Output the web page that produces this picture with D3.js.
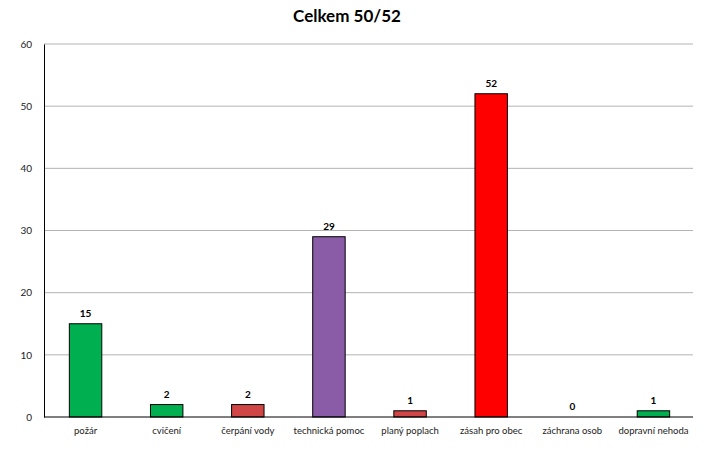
<!DOCTYPE html>
<html><head><meta charset="utf-8">
<script src="https://cdn.jsdelivr.net/npm/d3@7"></script>
<style>body{margin:0;background:#fff}svg{display:block}</style>
</head><body>
<script>
const categories = ["požár","cvičení","čerpání vody","technická pomoc","planý poplach","zásah pro obec","záchrana osob","dopravní nehoda"];
const values = [15,2,2,29,1,52,0,1];
const colors = ["#00b050","#00b050","#d04646","#8a5ca8","#d04646","#ff0000","#d04646","#00b050"];
const yTicks = [0,10,20,30,40,50,60];
const title = "Celkem 50/52";

const W = 703, H = 458;
const m = {left:44, right:10, top:44, bottom:41};
const svg = d3.select("body").append("svg").attr("width",W).attr("height",H);
const font = "Lato, 'Open Sans', sans-serif";

const x = d3.scaleBand().domain(categories).range([m.left+1, W-m.right+1]).paddingInner(0.6).paddingOuter(0.3);
const y = d3.scaleLinear().domain([0,60]).range([H-m.bottom, m.top]);

svg.append("text").attr("x", 347).attr("y", 22).attr("text-anchor","middle")
  .attr("font-family", font).attr("font-weight","bold").attr("font-size",17).attr("fill","#000").text(title);

// gridlines
svg.append("g").selectAll("line").data(yTicks.filter(d=>d>0)).join("line")
  .attr("x1", m.left).attr("x2", W-m.right).attr("y1", d=>y(d)).attr("y2", d=>y(d))
  .attr("stroke","#b3b3b3").attr("stroke-width",1);

// y axis
const yAxis = svg.append("g").attr("transform",`translate(${m.left},0)`)
  .call(d3.axisLeft(y).tickValues(yTicks).tickSize(0).tickPadding(12));
yAxis.select(".domain").attr("stroke","#000");
yAxis.selectAll("text").attr("font-family",font).attr("font-size",10).attr("fill","#222");

// bars
svg.append("g").selectAll("rect").data(categories).join("rect")
  .attr("x", d=>x(d)).attr("width", x.bandwidth())
  .attr("y", (d,i)=>y(values[i])).attr("height", (d,i)=>y(0)-y(values[i]))
  .attr("fill",(d,i)=>colors[i]).attr("stroke","#000").attr("stroke-width",(d,i)=>values[i]>0?1:0);

// x axis
const xAxis = svg.append("g").attr("transform",`translate(0,${y(0)})`)
  .call(d3.axisBottom(x).tickSize(0).tickPadding(10));
xAxis.select(".domain").attr("stroke","#000").attr("d",`M${m.left},0H${W-m.right}`);
xAxis.selectAll("text").attr("font-family",font).attr("font-size",9.5).attr("fill","#222");

// value labels
svg.append("g").selectAll("text").data(categories).join("text")
  .attr("x", d=>x(d)+x.bandwidth()/2).attr("y",(d,i)=>y(values[i])-7)
  .attr("text-anchor","middle").attr("font-family",font).attr("font-weight","bold").attr("font-size",10)
  .attr("fill","#000").text((d,i)=>values[i]);
</script>
</body></html>
